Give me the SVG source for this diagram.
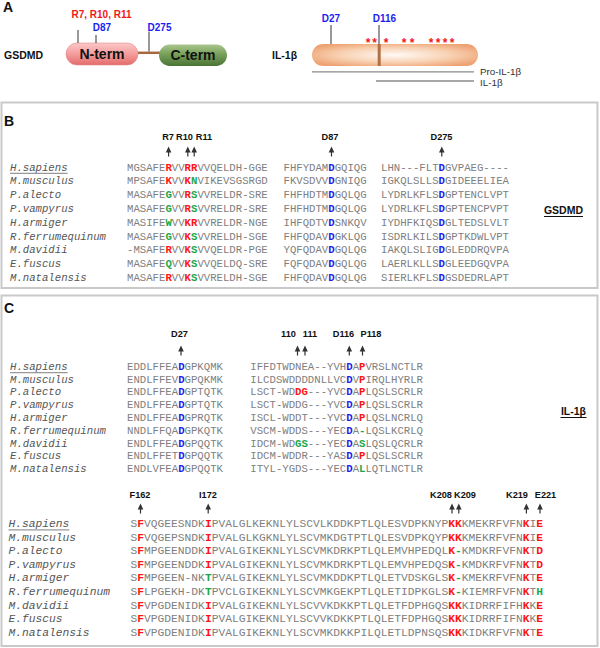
<svg xmlns="http://www.w3.org/2000/svg" width="600" height="648" viewBox="0 0 600 648">
<style>
.pl{font-family:"Liberation Sans",Arial,sans-serif;font-weight:bold;font-size:14px;fill:#111}
.lb{font-family:"Liberation Sans",Arial,sans-serif;font-weight:bold;font-size:9.2px;fill:#111;text-anchor:middle}
.la{font-family:"Liberation Sans",Arial,sans-serif;font-weight:bold;font-size:10px;text-anchor:middle}
.nm{font-family:"Liberation Sans",Arial,sans-serif;font-weight:bold;font-size:10.5px;fill:#111}
.sp{font-family:"Liberation Mono","Courier New",monospace;font-style:italic;font-size:10.667px;fill:#555}
.sq{font-family:"Liberation Mono","Courier New",monospace;font-size:10.667px;fill:#808080}
.big{font-size:11.283px}
.r{fill:#ff1414;font-weight:bold}
.b{fill:#1e1ef0;font-weight:bold}
.g{fill:#1ca84a;font-weight:bold}
.box{fill:#fff;stroke:#c9c9c9;stroke-width:2}
.ul{stroke:#999;stroke-width:1.3}
.tk{stroke:#555;stroke-width:1.2}
.fl{font-family:"Liberation Sans",Arial,sans-serif;font-size:9.8px;fill:#333}
</style>
<defs>
<linearGradient id="nG" x1="0" y1="0" x2="0" y2="1"><stop offset="0" stop-color="#fcc8c8"/><stop offset="0.5" stop-color="#f49c9c"/><stop offset="1" stop-color="#e46c6c"/></linearGradient>
<linearGradient id="cG" x1="0" y1="0" x2="0" y2="1"><stop offset="0" stop-color="#a9c68e"/><stop offset="0.45" stop-color="#78a05a"/><stop offset="1" stop-color="#4a7436"/></linearGradient>
<radialGradient id="oG" cx="0.5" cy="0.5" r="0.6"><stop offset="0" stop-color="#fffaf6"/><stop offset="0.55" stop-color="#f8d2b4"/><stop offset="1" stop-color="#eea272"/></radialGradient>
<path id="arr" d="M0,0 L2.8,6 L-2.8,6 Z M-0.6,5 H0.6 V10 H-0.6 Z" fill="#333"/>
</defs>
<rect width="600" height="648" fill="#fff"/>

<g id="panelA">
<text class="pl" x="3" y="12">A</text>
<text class="nm" x="4" y="59">GSDMD</text>
<g id="gsdmd">
<line x1="138" y1="52.8" x2="160" y2="52.8" stroke="#a5693f" stroke-width="2.5"/>
<rect x="66" y="43" width="72" height="22" rx="11" fill="url(#nG)" stroke="#e08a8a" stroke-width="0.6"/>
<rect x="159" y="44.5" width="68" height="21.5" rx="10.75" fill="url(#cG)"/>
<text class="pl" x="102" y="58.5" text-anchor="middle" font-size="13px">N-term</text>
<text class="pl" x="193" y="60" text-anchor="middle" font-size="13px">C-term</text>
<line class="tk" x1="78" y1="30" x2="78" y2="43"/>
<line class="tk" x1="96" y1="35" x2="96" y2="43"/>
<line class="tk" x1="149" y1="31.5" x2="149" y2="51.5"/>
<text class="la" x="101.5" y="18" fill="#f01818">R7, R10, R11</text>
<text class="la" x="102" y="31" fill="#1e1ef0">D87</text>
<text class="la" x="159.5" y="31" fill="#1e1ef0">D275</text>
</g>
<text class="nm" x="272" y="59">IL-1β</text>
<g id="il1b">
<rect x="312" y="44" width="166" height="22" rx="11" fill="url(#oG)"/>
<rect x="377.7" y="44" width="3" height="22" fill="#b07048"/>
<line class="tk" x1="331" y1="25" x2="331" y2="44"/>
<line class="tk" x1="379" y1="25" x2="379" y2="44"/>
<text class="la" x="331" y="22" fill="#1e1ef0">D27</text>
<text class="la" x="384.5" y="22" fill="#1e1ef0">D116</text>
<g font-family="Liberation Sans,Arial,sans-serif" font-weight="bold" font-size="12px" fill="#f01818" text-anchor="middle">
<text x="368" y="47">*</text><text x="374.5" y="47">*</text><text x="386" y="47">*</text>
<text x="404" y="47">*</text><text x="412" y="47">*</text>
<text x="431" y="47">*</text><text x="438" y="47">*</text><text x="445" y="47">*</text><text x="452" y="47">*</text>
</g>
<line x1="312" y1="71.8" x2="474" y2="71.8" stroke="#8a8a8a" stroke-width="1.3"/>
<line x1="376" y1="81" x2="474" y2="81" stroke="#8a8a8a" stroke-width="1.3"/>
<text class="fl" x="480" y="74.5">Pro-IL-1β</text>
<text class="fl" x="480" y="86.3">IL-1β</text>
</g>
</g>

<g id="panelB">
<rect class="box" x="1.5" y="102.5" width="596" height="185.5"/>
<text class="pl" x="4" y="126">B</text>
<g id="B-labels">
<text class="lb" x="168" y="139.5">R7</text>
<text class="lb" x="184.5" y="139.5">R10</text>
<text class="lb" x="204" y="139.5">R11</text>
<text class="lb" x="330" y="139.5">D87</text>
<text class="lb" x="441.5" y="139.5">D275</text>
<use href="#arr" x="168.6" y="146.5"/>
<use href="#arr" x="187.8" y="146.5"/>
<use href="#arr" x="194.2" y="146.5"/>
<use href="#arr" x="331.5" y="146.5"/>
<use href="#arr" x="441.8" y="146.5"/>
</g>
<g id="B-species" class="sp">
<text x="10" y="170.5">H.sapiens</text>
<text x="10" y="184.3">M.musculus</text>
<text x="10" y="198.1">P.alecto</text>
<text x="10" y="211.9">P.vampyrus</text>
<text x="10" y="225.7">H.armiger</text>
<text x="10" y="239.5">R.ferrumequinum</text>
<text x="10" y="253.3">M.davidii</text>
<text x="10" y="267.1">E.fuscus</text>
<text x="10" y="280.9">M.natalensis</text>
</g>
<line class="ul" x1="10" y1="173.3" x2="67.6" y2="173.3"/>
<g id="B-seq" class="sq">
<text x="127" y="170.5">MGSAFE<tspan class="r">R</tspan>VV<tspan class="r">RR</tspan>VVQELDH-GGE</text>
<text x="127" y="184.3">MPSAFE<tspan class="r">K</tspan>VV<tspan class="r">K</tspan><tspan class="g">N</tspan>VIKEVSGSRGD</text>
<text x="127" y="198.1">MASAFE<tspan class="g">G</tspan>VV<tspan class="r">R</tspan><tspan class="g">S</tspan>VVRELDR-SRE</text>
<text x="127" y="211.9">MASAFE<tspan class="g">G</tspan>VV<tspan class="r">R</tspan><tspan class="g">S</tspan>VVRELDR-SRE</text>
<text x="127" y="225.7">MASIFE<tspan class="g">W</tspan>VV<tspan class="r">KR</tspan>VVRELDR-NGE</text>
<text x="127" y="239.5">MASAFE<tspan class="g">G</tspan>VV<tspan class="r">K</tspan><tspan class="g">S</tspan>VVRELDH-SGE</text>
<text x="127" y="253.3">-MSAFE<tspan class="r">R</tspan>VV<tspan class="r">K</tspan><tspan class="g">S</tspan>VVQELDR-PGE</text>
<text x="127" y="267.1">MASAFE<tspan class="g">Q</tspan>VV<tspan class="r">K</tspan><tspan class="g">S</tspan>VVQELDQ-SRE</text>
<text x="127" y="280.9">MASAFE<tspan class="r">R</tspan>VV<tspan class="r">K</tspan><tspan class="g">S</tspan>VVRELDH-SGE</text>

<text x="283.5" y="170.5">FHFYDAM<tspan class="b">D</tspan>GQIQG</text>
<text x="283.5" y="184.3">FKVSDVV<tspan class="b">D</tspan>GNIQG</text>
<text x="283.5" y="198.1">FHFHDTM<tspan class="b">D</tspan>GQLQG</text>
<text x="283.5" y="211.9">FHFHDTM<tspan class="b">D</tspan>GQLQG</text>
<text x="283.5" y="225.7">IHFQDTV<tspan class="b">D</tspan>SNKQV</text>
<text x="283.5" y="239.5">FHFQDAV<tspan class="b">D</tspan>GKLQG</text>
<text x="283.5" y="253.3">YQFQDAV<tspan class="b">D</tspan>GQLQG</text>
<text x="283.5" y="267.1">FQFQDAV<tspan class="b">D</tspan>GQLQG</text>
<text x="283.5" y="280.9">FHFQDAV<tspan class="b">D</tspan>GQLQG</text>

<text x="381" y="170.5">LHN---FLT<tspan class="b">D</tspan>GVPAEG----</text>
<text x="381" y="184.3">IGKQLSLLS<tspan class="b">D</tspan>GIDEEELIEA</text>
<text x="381" y="198.1">LYDRLKFLS<tspan class="b">D</tspan>GPTENCLVPT</text>
<text x="381" y="211.9">LYDRLKFLS<tspan class="b">D</tspan>GPTENCPVPT</text>
<text x="381" y="225.7">IYDHFKIQS<tspan class="b">D</tspan>GLTEDSLVLT</text>
<text x="381" y="239.5">ISDRLKILS<tspan class="b">D</tspan>GPTKDWLVPT</text>
<text x="381" y="253.3">IAKQLSLIG<tspan class="b">D</tspan>GLEDDRQVPA</text>
<text x="381" y="267.1">LAERLKLLS<tspan class="b">D</tspan>GLEEDGQVPA</text>
<text x="381" y="280.9">SIERLKFLS<tspan class="b">D</tspan>GSDEDRLAPT</text>
</g>
<text class="nm" x="563.5" y="214" text-anchor="middle">GSDMD</text>
<line x1="544" y1="216.5" x2="583" y2="216.5" stroke="#111" stroke-width="1"/>
</g>

<g id="panelC">
<rect class="box" x="1.5" y="295.5" width="596" height="350.5"/>
<text class="pl" x="4" y="313">C</text>
<g id="C1-labels">
<text class="lb" x="179.5" y="336.8">D27</text>
<text class="lb" x="288.5" y="336.8">110</text>
<text class="lb" x="310" y="336.8">111</text>
<text class="lb" x="343.5" y="336.8">D116</text>
<text class="lb" x="371" y="336.8">P118</text>
<use href="#arr" x="181" y="345.5"/>
<use href="#arr" x="297.5" y="345.5"/>
<use href="#arr" x="305" y="345.5"/>
<use href="#arr" x="349.3" y="345.5"/>
<use href="#arr" x="362.5" y="345.5"/>
</g>
<g id="C1-species" class="sp">
<text x="10" y="369.8">H.sapiens</text>
<text x="10" y="382.6">M.musculus</text>
<text x="10" y="395.4">P.alecto</text>
<text x="10" y="408.2">P.vampyrus</text>
<text x="10" y="421">H.armiger</text>
<text x="10" y="433.8">R.ferrumequinum</text>
<text x="10" y="446.6">M.davidii</text>
<text x="10" y="459.4">E.fuscus</text>
<text x="10" y="472.2">M.natalensis</text>
</g>
<line class="ul" x1="10" y1="372.6" x2="67.6" y2="372.6"/>
<g id="C1-seq" class="sq">
<text x="127" y="369.8">EDDLFFEA<tspan class="b">D</tspan>GPKQMK</text>
<text x="127" y="382.6">ENDLFFEV<tspan class="b">D</tspan>GPQKMK</text>
<text x="127" y="395.4">ENDLFFEA<tspan class="b">D</tspan>GPTQTK</text>
<text x="127" y="408.2">ENDLFFEA<tspan class="b">D</tspan>GPTQTK</text>
<text x="127" y="421">ENDLFFEA<tspan class="b">D</tspan>GPRQTK</text>
<text x="127" y="433.8">NNDLFFQA<tspan class="b">D</tspan>GPKQTK</text>
<text x="127" y="446.6">ENDLFFEA<tspan class="b">D</tspan>GPQQTK</text>
<text x="127" y="459.4">ENDLFFET<tspan class="b">D</tspan>GPQQTK</text>
<text x="127" y="472.2">ENDLVFEA<tspan class="b">D</tspan>GPQQTK</text>

<text x="250.3" y="369.8">IFFDTWDNEA--YVH<tspan class="b">D</tspan>A<tspan class="r">P</tspan>VRSLNCTLR</text>
<text x="250.3" y="382.6">ILCDSWDDDDNLLVC<tspan class="b">D</tspan>V<tspan class="r">P</tspan>IRQLHYRLR</text>
<text x="250.3" y="395.4">LSCT-WD<tspan class="r">DG</tspan>---YVC<tspan class="b">D</tspan>A<tspan class="r">P</tspan>LQSLSCRLR</text>
<text x="250.3" y="408.2">LSCT-WDDG---YVC<tspan class="b">D</tspan>A<tspan class="r">P</tspan>LQSLSCRLR</text>
<text x="250.3" y="421">ISCL-WDDT---YVC<tspan class="b">D</tspan>A<tspan class="r">P</tspan>LQSLNCRLQ</text>
<text x="250.3" y="433.8">VSCM-WDDS---YEC<tspan class="b">D</tspan>A<tspan class="g">-</tspan>LQSLKCRLQ</text>
<text x="250.3" y="446.6">IDCM-WD<tspan class="g">GS</tspan>---YEC<tspan class="b">D</tspan>A<tspan class="g">S</tspan>LQSLQCRLR</text>
<text x="250.3" y="459.4">IDCM-WDDR---YAS<tspan class="b">D</tspan>A<tspan class="r">P</tspan>LQSLSCRLR</text>
<text x="250.3" y="472.2">ITYL-YGDS---YEC<tspan class="b">D</tspan>A<tspan class="g">L</tspan>LQTLNCTLR</text>
</g>
<text class="nm" x="573.5" y="415" text-anchor="middle" font-size="11px">IL-1β</text>
<line x1="560.5" y1="417.5" x2="586.5" y2="417.5" stroke="#111" stroke-width="1"/>

<g id="C2-labels">
<text class="lb" x="140" y="497.5">F162</text>
<text class="lb" x="208" y="497.5">I172</text>
<text class="lb" x="441" y="497.5">K208</text>
<text class="lb" x="465" y="497.5">K209</text>
<text class="lb" x="517" y="497.5">K219</text>
<text class="lb" x="545.5" y="497.5">E221</text>
<use href="#arr" x="140.5" y="503.5"/>
<use href="#arr" x="208.2" y="503.5"/>
<use href="#arr" x="452" y="503.5"/>
<use href="#arr" x="458.8" y="503.5"/>
<use href="#arr" x="526.4" y="503.5"/>
<use href="#arr" x="540" y="503.5"/>
</g>
<g id="C2-species" class="sp big">
<text x="8.5" y="527">H.sapiens</text>
<text x="8.5" y="540.6">M.musculus</text>
<text x="8.5" y="554.2">P.alecto</text>
<text x="8.5" y="567.8">P.vampyrus</text>
<text x="8.5" y="581.4">H.armiger</text>
<text x="8.5" y="595">R.ferrumequinum</text>
<text x="8.5" y="608.6">M.davidii</text>
<text x="8.5" y="622.2">E.fuscus</text>
<text x="8.5" y="635.8">M.natalensis</text>
</g>
<line class="ul" x1="8.5" y1="529.9" x2="69.4" y2="529.9"/>
<g id="C2-seq" class="sq big">
<text x="130.5" y="527">S<tspan class="r">F</tspan>VQGEESNDK<tspan class="r">I</tspan>PVALGLKEKNLYLSCVLKDDKPTLQLESVDPKNYP<tspan class="r">KK</tspan>KMEKRFVFN<tspan class="r">K</tspan>I<tspan class="r">E</tspan></text>
<text x="130.5" y="540.6">S<tspan class="r">F</tspan>VQGEPSNDK<tspan class="r">I</tspan>PVALGLKGKNLYLSCVMKDGTPTLQLESVDPKQYP<tspan class="r">KK</tspan>KMEKRFVFN<tspan class="r">K</tspan>I<tspan class="r">E</tspan></text>
<text x="130.5" y="554.2">S<tspan class="r">F</tspan>MPGEENDDK<tspan class="r">I</tspan>PVALGIKEKNLYLSCVMKDRKPTLQLEMVHPEDQL<tspan class="r">K</tspan><tspan class="g">-</tspan>KMDKRFVFN<tspan class="r">K</tspan>T<tspan class="r">D</tspan></text>
<text x="130.5" y="567.8">S<tspan class="r">F</tspan>MPGEENDDK<tspan class="r">I</tspan>PVALGIKEKNLYLSCVMKDRKPTLQLEMVHPEDQS<tspan class="r">K</tspan><tspan class="g">-</tspan>KMDKRFVFN<tspan class="r">K</tspan>T<tspan class="r">D</tspan></text>
<text x="130.5" y="581.4">S<tspan class="r">F</tspan>MPGEEN-NK<tspan class="g">T</tspan>PVALGIKEKNLYLSCVMKDDKPTLQLETVDSKGLS<tspan class="r">K</tspan><tspan class="g">-</tspan>KMEKRFVFN<tspan class="r">K</tspan>T<tspan class="r">E</tspan></text>
<text x="130.5" y="595">S<tspan class="r">F</tspan>LPGEKH-DK<tspan class="g">T</tspan>PVCLGIKEKNLYLSCVMKGEKPTLQLETIDPKGLS<tspan class="r">K</tspan><tspan class="g">-</tspan>KIEMRFVFN<tspan class="r">K</tspan>T<tspan class="g">H</tspan></text>
<text x="130.5" y="608.6">S<tspan class="r">F</tspan>VPGDENIDK<tspan class="r">I</tspan>PVALGIKEKNLYLSCVVKDKKPTLQLETFDPHGQS<tspan class="r">KK</tspan>KIDRRFIFH<tspan class="r">K</tspan>K<tspan class="r">E</tspan></text>
<text x="130.5" y="622.2">S<tspan class="r">F</tspan>VPGDENIDK<tspan class="r">I</tspan>PVALGIKEKNLYLSCVVKDKKPTLQLETFDPHGQS<tspan class="r">KK</tspan>KIDRRFIFN<tspan class="r">K</tspan>K<tspan class="r">E</tspan></text>
<text x="130.5" y="635.8">S<tspan class="r">F</tspan>VPGDENIDK<tspan class="r">I</tspan>PVALGIKEKNLYLSCVMKDKKPILQLETLDPNSQS<tspan class="r">KK</tspan>KIDKRFVFN<tspan class="r">K</tspan>T<tspan class="r">E</tspan></text>
</g>
</g>
</svg>
